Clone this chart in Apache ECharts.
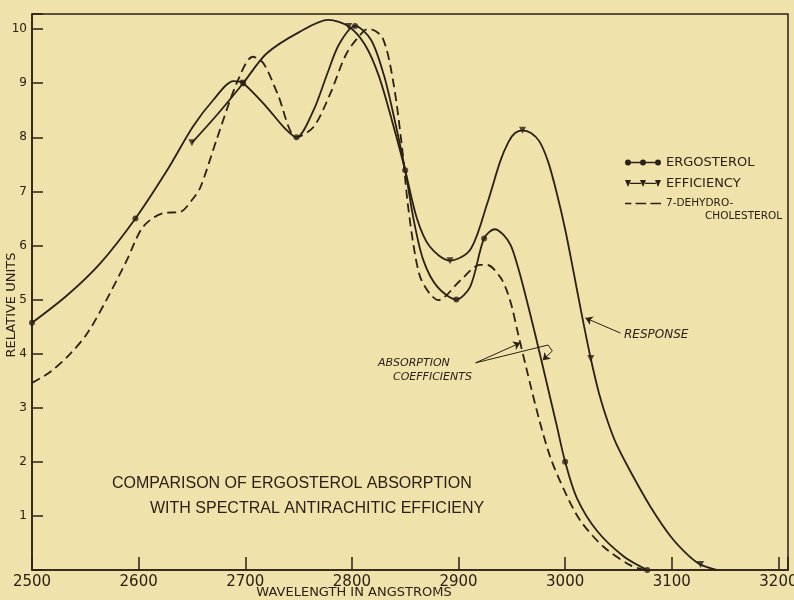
<!DOCTYPE html>
<html>
<head>
<meta charset="utf-8">
<script src="https://cdn.jsdelivr.net/npm/echarts@6/dist/echarts.min.js"></script>
<style>
html,body{margin:0;padding:0;background:#f0e2ab;overflow:hidden;}
#chart{width:794px;height:600px;}
</style>
</head>
<body>
<div id="chart"></div>
<script>
// ---- data (wavelength in angstroms, relative units) ----
const xTicks = [2500, 2600, 2700, 2800, 2900, 3000, 3100, 3200];
const yTicks = [1, 2, 3, 4, 5, 6, 7, 8, 9, 10];

const ergosterolCurve = [
  [2500,4.57],[2533,5.08],[2564,5.67],[2597,6.5],[2627,7.4],[2651,8.2],[2670,8.69],
  [2689,9.04],[2698,9.0],[2720,8.56],[2736,8.19],[2748,8.0],[2764,8.5],[2777,9.18],
  [2788,9.72],[2803,10.06],[2818,9.8],[2830,9.15],[2840,8.33],[2850,7.39],[2858,6.47],
  [2867,5.73],[2880,5.24],[2898,5.0],[2911,5.24],[2924,6.13],[2934,6.30],[2942,6.2],
  [2949,6.0],[2955,5.65],[2961,5.22],[2972,4.35],[2984,3.35],[2992,2.68],[3000,2.0],
  [3011,1.33],[3030,0.72],[3055,0.25],[3077,0]
];
const ergosterolMarks = [
  [2500,4.57],[2597,6.5],[2698,9.0],[2748,8.0],[2803,10.06],[2850,7.39],
  [2898,5.0],[2924,6.13],[3000,2.0],[3077,0]
];

const efficiencyCurve = [
  [2650,7.9],[2675,8.45],[2698,9.0],[2720,9.55],[2751,9.95],[2778,10.17],[2797,10.05],
  [2812,9.72],[2825,9.15],[2838,8.28],[2850,7.39],[2861,6.5],[2873,5.98],[2892,5.72],
  [2911,5.92],[2927,6.78],[2939,7.55],[2947,7.92],[2953,8.08],[2960,8.13],[2968,8.08],
  [2976,7.92],[2984,7.55],[2992,6.98],[3000,6.30],[3008,5.50],[3016,4.68],[3024,3.91],
  [3032,3.25],[3040,2.74],[3048,2.33],[3061,1.83],[3080,1.17],[3099,0.62],[3115,0.28],
  [3127,0.1],[3143,0]
];
const efficiencyMarks = [
  [2650,7.9],[2698,9.0],[2797,10.05],[2892,5.72],[2960,8.13],[3024,3.91],[3127,0.1]
];

const dehydroCurve = [
  [2500,3.46],[2517,3.66],[2536,4.0],[2552,4.38],[2570,5.0],[2589,5.73],[2604,6.34],
  [2623,6.6],[2639,6.62],[2650,6.84],[2658,7.08],[2673,7.95],[2692,9.0],[2707,9.49],
  [2717,9.37],[2730,8.82],[2748,8.0],[2764,8.19],[2780,8.82],[2795,9.55],[2812,9.98],
  [2817,10.0],[2829,9.83],[2839,9.0],[2847,7.82],[2852,6.84],[2858,5.98],[2864,5.42],
  [2873,5.11],[2881,4.99],[2902,5.36],[2920,5.64],[2927,5.64],[2939,5.42],[2945,5.18],
  [2950,4.87],[2955,4.44],[2964,3.70],[2975,2.83],[2986,2.09],[2999,1.48],[3014,0.92],
  [3036,0.43],[3061,0.09],[3075,0]
];

// annotation arrows (data coordinates)
const responseArrow = [[3052,4.38],[3019,4.66]];
const absorptionArrowA = [[2916,3.83],[2958,4.2]];
const absorptionArrowB = [[2916,3.83],[2984,4.16],[2988,4.05],[2979,3.88]];

const ink = '#2a2116';
const bg = '#f0e2ab';

const chart = echarts.init(document.getElementById('chart'));

const arrowSegments = [];
arrowSegments.push([{coord: responseArrow[0]}, {coord: responseArrow[1]}]);
arrowSegments.push([{coord: absorptionArrowA[0]}, {coord: absorptionArrowA[1]}]);
for (let i = 0; i < absorptionArrowB.length - 1; i++) {
  const last = i === absorptionArrowB.length - 2;
  arrowSegments.push([
    {coord: absorptionArrowB[i], symbol: 'none'},
    {coord: absorptionArrowB[i+1], symbol: last ? 'arrow' : 'none'}
  ]);
}

const ergoIcon = 'path://M0,40 a30,30 0 1,0 60,0 a30,30 0 1,0 -60,0 Z M150,40 a30,30 0 1,0 60,0 a30,30 0 1,0 -60,0 Z M300,40 a30,30 0 1,0 60,0 a30,30 0 1,0 -60,0 Z M60,32 L150,32 L150,48 L60,48 Z M210,32 L300,32 L300,48 L210,48 Z';
const effIcon = 'path://M0,5 L60,5 L30,75 Z M150,5 L210,5 L180,75 Z M300,5 L360,5 L330,75 Z M50,32 L160,32 L160,46 L50,46 Z M200,32 L310,32 L310,46 L200,46 Z';
const dashIcon = 'path://M0,34 L60,34 L60,46 L0,46 Z M100,34 L200,34 L200,46 L100,46 Z M240,34 L340,34 L340,46 L240,46 Z';

const option = {
  animation: false,
  backgroundColor: bg,
  grid: {left: 32, right: 6, top: 14, bottom: 30, containLabel: false, outerBoundsMode: 'none',
    show: true, borderColor: ink, borderWidth: 1.5, backgroundColor: 'transparent'},
  xAxis: {
    type: 'value', min: 2500, max: 3209, interval: 100,
    axisLine: {show: true, lineStyle: {color: ink, width: 1.5}},
    axisTick: {show: true, inside: true, length: 13, lineStyle: {color: ink, width: 1.5}},
    axisLabel: {color: ink, fontFamily: 'DejaVu Sans', fontSize: 15, margin: 5,
      formatter: v => (xTicks.indexOf(v) >= 0 ? String(v) : '')},
    splitLine: {show: false}
  },
  yAxis: {
    type: 'value', min: 0, max: 10.28, interval: 1,
    axisLine: {show: true, lineStyle: {color: ink, width: 1.5}},
    axisTick: {show: true, inside: true, length: 11, lineStyle: {color: ink, width: 1.5}},
    axisLabel: {color: ink, fontFamily: 'DejaVu Sans', fontSize: 12, margin: 5,
      formatter: v => (yTicks.indexOf(v) >= 0 ? String(v) : '')},
    splitLine: {show: false}
  },
  legend: {
    orient: 'vertical', left: 620, top: 151, itemWidth: 36, itemHeight: 8, itemGap: 8,
    selectedMode: false,
    itemStyle: {color: ink, borderWidth: 0},
    textStyle: {color: ink, fontFamily: 'DejaVu Sans', fontSize: 13},
    data: [
      {name: 'ERGOSTEROL', icon: ergoIcon},
      {name: 'EFFICIENCY', icon: effIcon},
      {name: '7-DEHYDRO-', icon: dashIcon, textStyle: {fontSize: 10.5}}
    ]
  },
  graphic: [
    {type: 'text', left: 112, top: 476, style: {text: 'COMPARISON OF ERGOSTEROL ABSORPTION', fill: ink, font: '16px "Liberation Sans"'}},
    {type: 'text', left: 150, top: 501, style: {text: 'WITH SPECTRAL ANTIRACHITIC EFFICIENY', fill: ink, font: '16px "Liberation Sans"'}},
    {type: 'text', x: 354, y: 593, style: {text: 'WAVELENGTH IN ANGSTROMS', fill: ink, font: '13px "DejaVu Sans"', align: 'center', verticalAlign: 'middle'}},
    {type: 'text', x: 12, y: 305, rotation: Math.PI / 2, style: {text: 'RELATIVE UNITS', fill: ink, font: '13px "DejaVu Sans"', align: 'center', verticalAlign: 'middle'}},
    {type: 'text', x: 624, y: 335, style: {text: 'RESPONSE', fill: ink, font: 'italic 12px "DejaVu Sans"', verticalAlign: 'middle'}},
    {type: 'text', x: 378, y: 363, style: {text: 'ABSORPTION', fill: ink, font: 'italic 11px "DejaVu Sans"', verticalAlign: 'middle'}},
    {type: 'text', x: 393, y: 377, style: {text: 'COEFFICIENTS', fill: ink, font: 'italic 11px "DejaVu Sans"', verticalAlign: 'middle'}},
    {type: 'text', x: 705, y: 216, style: {text: 'CHOLESTEROL', fill: ink, font: '10.5px "DejaVu Sans"', verticalAlign: 'middle'}}
  ],
  series: [
    {
      name: 'ERGOSTEROL', type: 'line', data: ergosterolCurve, smooth: 0.3, symbol: 'none',
      lineStyle: {color: ink, width: 1.8}, itemStyle: {color: ink}, silent: true, z: 3,
      markLine: {
        silent: true, symbol: ['none', 'arrow'], symbolSize: 7,
        lineStyle: {color: ink, width: 1, type: 'solid'},
        label: {show: false}, emphasis: {disabled: true},
        data: arrowSegments
      }
    },
    {
      name: 'EFFICIENCY', type: 'line', data: efficiencyCurve, smooth: 0.3, symbol: 'none',
      lineStyle: {color: ink, width: 1.8}, itemStyle: {color: ink}, silent: true, z: 3
    },
    {
      name: '7-DEHYDRO-', type: 'line', data: dehydroCurve, smooth: 0.3, symbol: 'none',
      lineStyle: {color: ink, width: 1.8, type: [9, 5]}, itemStyle: {color: ink}, silent: true, z: 3
    },
    {
      name: 'ERGOSTEROL', type: 'scatter', data: ergosterolMarks, symbol: 'circle', symbolSize: 6,
      itemStyle: {color: ink}, silent: true, z: 4
    },
    {
      name: 'EFFICIENCY', type: 'scatter', data: efficiencyMarks, symbol: 'triangle', symbolRotate: 180,
      symbolSize: 7, itemStyle: {color: ink}, silent: true, z: 4
    }
  ]
};
chart.setOption(option);
</script>
</body>
</html>
